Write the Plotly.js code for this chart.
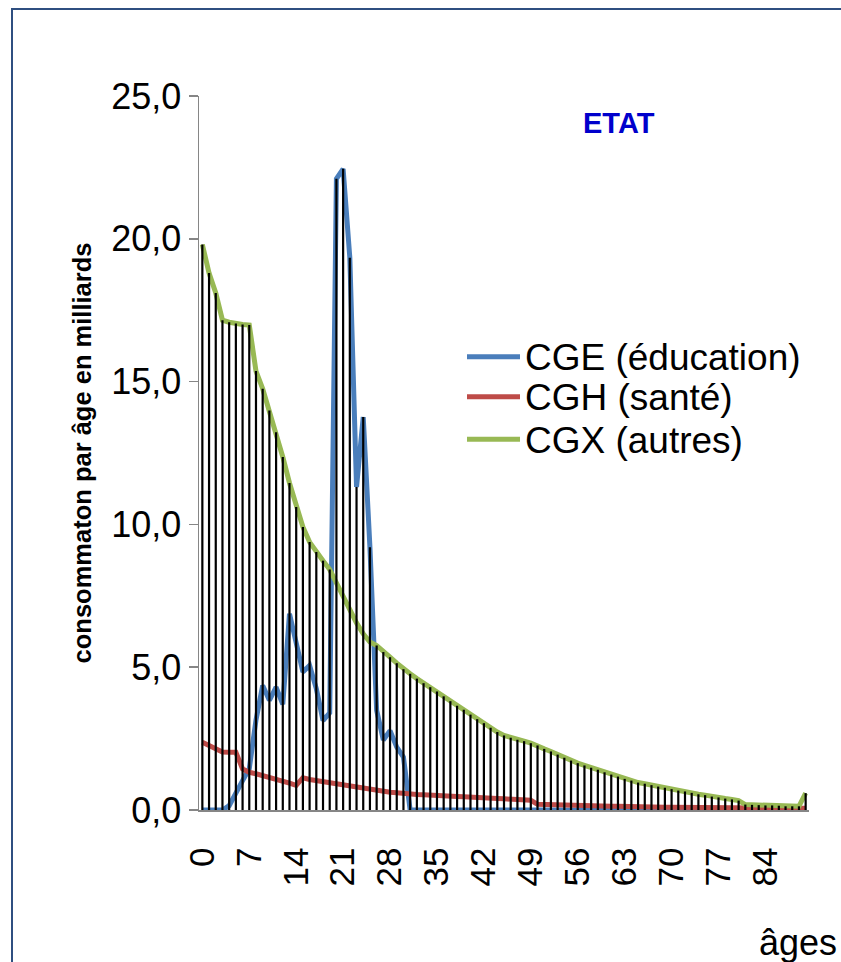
<!DOCTYPE html>
<html>
<head>
<meta charset="utf-8">
<script src="https://cdn.plot.ly/plotly-3.0.1.min.js"></script>
<style>html,body{margin:0;padding:0;background:#fff;}#chart{width:841px;height:962px;}</style>
</head>
<body>
<div id="chart"></div>
<script>
// Ages 0..90
const ages = Array.from({length: 91}, (_, i) => i);

// CGE (éducation)
const cge = [
  0, 0, 0, 0, 0.15, 0.55, 1.03, 1.45, 3.15, 4.36,
  3.84, 4.30, 3.70, 6.87, 5.82, 4.83, 5.06, 4.25, 3.13, 3.40,
  22.1, 22.45, 19.34, 11.31, 13.76, 9.2, 3.49, 2.45, 2.78, 2.2,
  1.85, 0, 0, 0, 0, 0, 0, 0, 0, 0,
  0, 0, 0, 0, 0, 0, 0, 0, 0, 0,
  0, 0, 0, 0, 0, 0, 0, 0, 0, 0,
  0, 0, 0, 0, 0, 0, 0, 0, 0, 0,
  0, 0, 0, 0, 0, 0, 0, 0, 0, 0,
  0, 0, 0, 0, 0, 0, 0, 0, 0, 0,
  0
];

// CGH (santé)
const cgh = [
  2.37, 2.26, 2.14, 2.03, 2.02, 2.02, 1.44, 1.32, 1.27, 1.21,
  1.15, 1.09, 1.03, 0.94, 0.86, 1.13, 1.07, 1.03, 1.00, 0.96,
  0.92, 0.88, 0.84, 0.79, 0.75, 0.71, 0.67, 0.64, 0.62, 0.60,
  0.57, 0.55, 0.54, 0.53, 0.51, 0.50, 0.49, 0.48, 0.47, 0.46,
  0.44, 0.43, 0.42, 0.41, 0.40, 0.39, 0.37, 0.36, 0.35, 0.34,
  0.20, 0.19, 0.19, 0.18, 0.17, 0.17, 0.16, 0.16, 0.15, 0.15,
  0.14, 0.13, 0.13, 0.12, 0.12, 0.12, 0.11, 0.11, 0.11, 0.10,
  0.10, 0.10, 0.10, 0.09, 0.09, 0.09, 0.09, 0.08, 0.08, 0.08,
  0.08, 0.08, 0.07, 0.07, 0.07, 0.07, 0.07, 0.06, 0.06, 0.06,
  0.06
];

// CGX (autres)
const cgx = [
  19.8, 18.8, 18.1, 17.15, 17.08, 17.03, 17.0, 16.98, 15.37, 14.75,
  13.99, 13.23, 12.36, 11.45, 10.61, 9.91, 9.38, 9.03, 8.73, 8.42,
  7.95, 7.48, 6.99, 6.55, 6.17, 5.88, 5.76, 5.53, 5.35, 5.14,
  4.93, 4.77, 4.60, 4.44, 4.30, 4.15, 3.98, 3.81, 3.65, 3.51,
  3.34, 3.18, 3.04, 2.88, 2.73, 2.61, 2.53, 2.46, 2.41, 2.34,
  2.26, 2.14, 2.05, 1.94, 1.83, 1.73, 1.64, 1.56, 1.48, 1.41,
  1.32, 1.24, 1.17, 1.09, 1.03, 0.96, 0.92, 0.87, 0.82, 0.78,
  0.73, 0.68, 0.65, 0.60, 0.55, 0.52, 0.47, 0.44, 0.40, 0.37,
  0.33, 0.19, 0.18, 0.17, 0.16, 0.16, 0.15, 0.13, 0.13, 0.13,
  0.59
];

const seriesNames = ['CGE (éducation)', 'CGH (santé)', 'CGX (autres)'];
const seriesColors = ['#4A7EBB', '#BE4B48', '#98B954'];
const xTickVals = [0, 7, 14, 21, 28, 35, 42, 49, 56, 63, 70, 77, 84];
const xTickText = ['0', '7', '14', '21', '28', '35', '42', '49', '56', '63', '70', '77', '84'];
const yTickVals = [0, 5, 10, 15, 20, 25];
const yTickText = ['0,0', '5,0', '10,0', '15,0', '20,0', '25,0'];
const chartTitle = 'ETAT';
const yTitle = 'consommaton par âge en milliards';
const xTitle = 'âges';

const FONT = 'Arial, "Liberation Sans", sans-serif';

// Drop lines (from the highest series at each age down to the axis)
const dropX = [], dropY = [];
ages.forEach((a, i) => {
  const m = Math.max(cge[i], cgh[i], cgx[i]);
  dropX.push(a, a, null);
  dropY.push(0, m, null);
});

const allSeries = [cge, cgh, cgx];
const traces = allSeries.map((ys, k) => ({
  type: 'scatter', mode: 'lines', x: ages, y: ys, name: seriesNames[k],
  line: {color: seriesColors[k], width: 5}, showlegend: false, hoverinfo: 'skip'
}));
traces.push({
  type: 'scatter', mode: 'lines', x: dropX, y: dropY, name: 'drop',
  line: {color: '#000000', width: 2.2}, showlegend: false, hoverinfo: 'skip'
});

// pixel -> paper helpers (plot area: x 199..809, y 96..810)
const PL = 199, PW = 610, PB = 810, PH = 714;
const px = v => (v - PL) / PW;
const py = v => (PB - v) / PH;

const legendY = [356.7, 396.7, 439.3];
const shapes = [
  {type: 'rect', xref: 'paper', yref: 'paper', x0: px(12), x1: px(1000), y0: py(1100), y1: py(9),
   line: {color: '#2F4F80', width: 2}, fillcolor: 'rgba(0,0,0,0)', layer: 'below'}
];
const annotations = [
  {xref: 'paper', yref: 'paper', x: px(619), y: py(123), text: '<b>' + chartTitle + '</b>', showarrow: false,
   xanchor: 'center', yanchor: 'middle', font: {family: FONT, size: 29, color: '#0000CC'}},
  {xref: 'paper', yref: 'paper', x: px(757), y: py(942), text: xTitle, showarrow: false,
   xanchor: 'left', yanchor: 'middle', font: {family: FONT, size: 36, color: '#000'}}
];
seriesNames.forEach((n, k) => {
  shapes.push({type: 'line', xref: 'paper', yref: 'paper', x0: px(467), x1: px(520), y0: py(legendY[k]), y1: py(legendY[k]),
    line: {color: seriesColors[k], width: 5}});
  annotations.push({xref: 'paper', yref: 'paper', x: px(523), y: py(legendY[k] + 1), text: n, showarrow: false,
    xanchor: 'left', yanchor: 'middle', font: {family: FONT, size: 37, color: '#000'}});
});

const layout = {
  width: 841, height: 962,
  margin: {l: 199, r: 32, t: 96, b: 152},
  paper_bgcolor: '#fff', plot_bgcolor: '#fff',
  showlegend: false,
  font: {family: FONT, color: '#000'},
  xaxis: {
    range: [-0.5, 90.5], tickmode: 'array', tickvals: xTickVals, ticktext: xTickText,
    tickangle: -90, tickfont: {family: FONT, size: 35, color: '#000'},
    showgrid: false, zeroline: false, showline: true, linecolor: '#868686', linewidth: 1.5,
    ticks: '', ticklabelstandoff: 22, fixedrange: true
  },
  yaxis: {
    range: [0, 25], tickmode: 'array', tickvals: yTickVals, ticktext: yTickText,
    tickfont: {family: FONT, size: 36, color: '#000'},
    showgrid: false, zeroline: false, showline: true, linecolor: '#868686', linewidth: 1.5,
    ticks: 'outside', ticklen: 9, tickcolor: '#868686', tickwidth: 1.5,
    title: {text: '<b>' + yTitle + '</b>', font: {family: FONT, size: 25.5, color: '#000'}, standoff: 12},
    fixedrange: true
  },
  shapes: shapes,
  annotations: annotations
};

Plotly.newPlot('chart', traces, layout, {displayModeBar: false, staticPlot: true});
</script>
</body>
</html>
